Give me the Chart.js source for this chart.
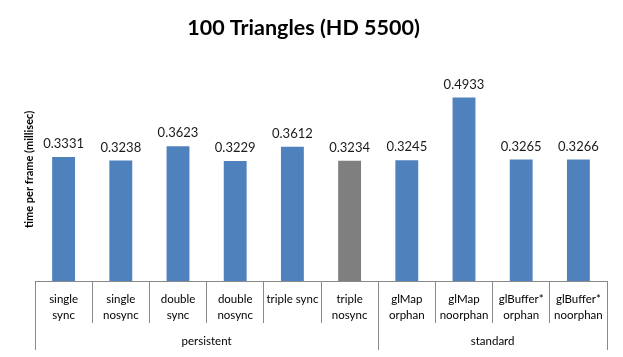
<!DOCTYPE html>
<html><head><meta charset="utf-8">
<script src="https://cdn.jsdelivr.net/npm/chart.js@4.4.1/dist/chart.umd.min.js"></script>
<style>html,body{margin:0;padding:0;background:#fff}#wrap{width:623px;height:357px}</style>
</head><body><div id="wrap"><canvas id="c" width="623" height="357"></canvas></div>
<script>
const categories = [['single','sync'],['single','nosync'],['double','sync'],['double','nosync'],'triple sync',['triple','nosync'],['glMap','orphan'],['glMap','noorphan'],['glBuffer*','orphan'],['glBuffer*','noorphan']];
const values = [0.3331,0.3238,0.3623,0.3229,0.3612,0.3234,0.3245,0.4933,0.3265,0.3266];
const valueLabels = ['0.3331','0.3238','0.3623','0.3229','0.3612','0.3234','0.3245','0.4933','0.3265','0.3266'];
const groups = [{name:'persistent', from:0, to:5},{name:'standard', from:6, to:9}];
const barColors = values.map((v,i)=> i===5 ? '#7F7F7F' : '#4F81BD');
const FONT = 'Lato, "Liberation Sans", sans-serif';

const extras = {
  id:'extras',
  afterDatasetsDraw(chart){
    const ctx = chart.ctx;
    const meta = chart.getDatasetMeta(0);
    ctx.save();
    ctx.fillStyle = '#1a1a1a';
    ctx.font = '13px ' + FONT;
    ctx.textAlign = 'center';
    ctx.textBaseline = 'middle';
    meta.data.forEach((bar,i)=>{ ctx.fillText(valueLabels[i], bar.x, bar.y - 13); });
    const xs = chart.scales.x;
    const half = (xs.getPixelForValue(1) - xs.getPixelForValue(0))/2;
    const top = chart.chartArea.bottom;
    ctx.strokeStyle = '#898989';
    ctx.lineWidth = 1;
    ctx.font = '11.5px ' + FONT;
    ctx.fillStyle = '#000';
    groups.forEach(g=>{
      const l = xs.getPixelForValue(g.from) - half;
      const r = xs.getPixelForValue(g.to) + half;
      [l,r].forEach(x=>{
        ctx.beginPath(); ctx.moveTo(Math.round(x)+0.5, top); ctx.lineTo(Math.round(x)+0.5, top+69); ctx.stroke();
      });
      ctx.fillText(g.name, (l+r)/2, top + 60);
    });
    ctx.restore();
  }
};

new Chart(document.getElementById('c'), {
  type:'bar',
  data:{ labels: categories, datasets:[{ data: values, backgroundColor: barColors, barPercentage:0.4, categoryPercentage:1.0 }]},
  options:{
    responsive:false, animation:false,
    layout:{ padding:{ left:0, right:16, top:0, bottom:0 } },
    plugins:{
      legend:{display:false}, tooltip:{enabled:false},
      title:{ display:true, text:'100 Triangles (HD 5500)', color:'#000', font:{ family:FONT, size:21.5, weight:'bold', lineHeight:1.2 }, padding:{ top:15, bottom:17 } }
    },
    scales:{
      x:{
        offset:true,
        grid:{ offset:true, drawOnChartArea:false, drawTicks:true, tickLength:42, color:'#898989' },
        border:{ display:true, color:'#898989' },
        ticks:{ autoSkip:false, maxRotation:0, minRotation:0, padding:-32, color:'#000', font:{ family:FONT, size:11.5, lineHeight:1.4 } },
        afterFit(s){ s.height = 76; }
      },
      y:{
        min:0, max:0.6,
        grid:{ display:false }, border:{ display:false },
        ticks:{ display:false },
        title:{ display:true, text:'time per frame (millisec)', color:'#000', font:{ family:FONT, size:11, weight:'bold' }, padding:{ top:23, bottom:0 } },
        afterFit(s){ s.width = 35; }
      }
    }
  },
  plugins:[extras]
});
</script></body></html>
